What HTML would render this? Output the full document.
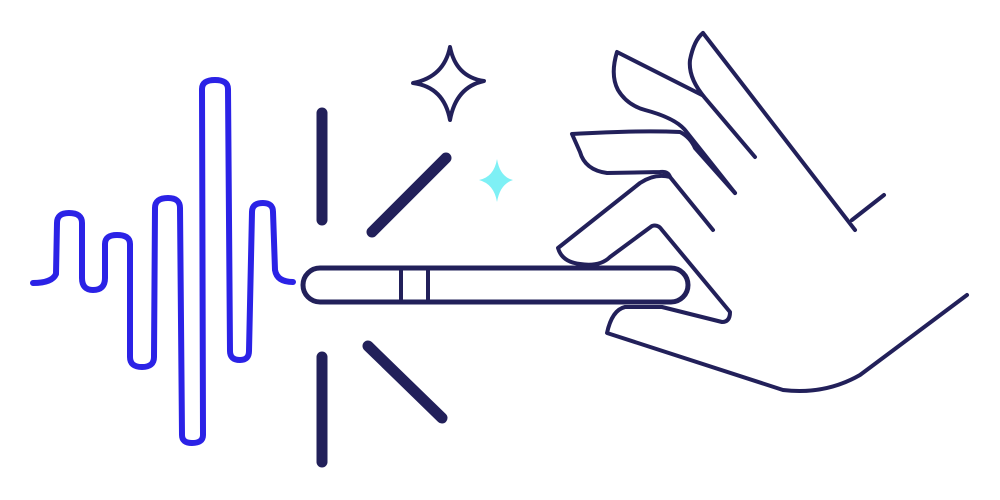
<!DOCTYPE html>
<html><head><meta charset="utf-8"><style>html,body{margin:0;padding:0;background:#fff}svg{display:block}</style></head>
<body>
<svg width="1000" height="500" viewBox="0 0 1000 500" xmlns="http://www.w3.org/2000/svg">
<g fill="none" stroke-linecap="round" stroke-linejoin="round">
<path stroke="#2b22e6" stroke-width="6" d="M33,283 Q52,283 56,274 L57,223 Q57,213 69,213 Q82,213 82,223 L82,278 Q82,290 93,290 Q105,290 105,278 L105,244 Q105,235 117,235 Q130,235 130,244 L130,357 Q130,367 142,367 Q154,367 154,357 L155,208 Q155,198 168,198 Q180,198 180,208 L182,435 Q182,443 192,443 Q203,443 203,435 L202,89 Q202,80 215,80 Q228,80 228,89 L230,351 Q230,360 240,360 Q249,360 249,351 L252,212 Q252,203 263,203 Q273,203 273,212 L275,270 Q277,282 293,282"/>
<g stroke="#22205a">
<line x1="322" y1="113" x2="322" y2="220" stroke-width="11"/>
<line x1="322" y1="357" x2="322" y2="462" stroke-width="11"/>
<line x1="372" y1="232" x2="446" y2="158" stroke-width="11"/>
<line x1="368" y1="346" x2="442" y2="418" stroke-width="11"/>
<path stroke-width="4" d="M450,47 Q456,77 484,81 Q456,87 450,120 Q444,87 413,83 Q444,77 450,47 Z"/>
<rect x="303" y="268" width="385" height="34" rx="17" stroke-width="5"/>
<line x1="401" y1="270" x2="401" y2="300" stroke-width="4"/>
<line x1="428" y1="270" x2="428" y2="300" stroke-width="4"/>
<g stroke-width="4">
<path d="M703,33 L855,230 M852,220 L884,195"/>
<path d="M755,157 L705,98 Q688,78 690,60 Q694,40 703,33"/>
<path d="M702,95 L617,52 Q610,75 618,90 Q627,105 645,110 Q675,118 685,130 L735,193"/>
<path d="M713,230 L670,177 Q668,171 660,172 L607,173 Q585,170 580,152 L572,134 Q640,130 680,132 Q690,137 695,148 L735,193"/>
<path d="M670,177 Q655,173 640,183 L558,248 Q562,262 580,264 Q600,267 610,257 L652,226 Q658,224 662,230 L730,312 Q730,322 722,322 L662,307 L625,307 Q612,310 607,333 L783,390 Q825,395 860,375 L967,295"/>
</g>
</g>
<path fill="#7ef0f5" d="M497,159 Q500,177 513,180 Q500,184 497,202 Q494,184 479,180 Q494,177 497,159 Z"/>
</g>
</svg>
</body></html>
